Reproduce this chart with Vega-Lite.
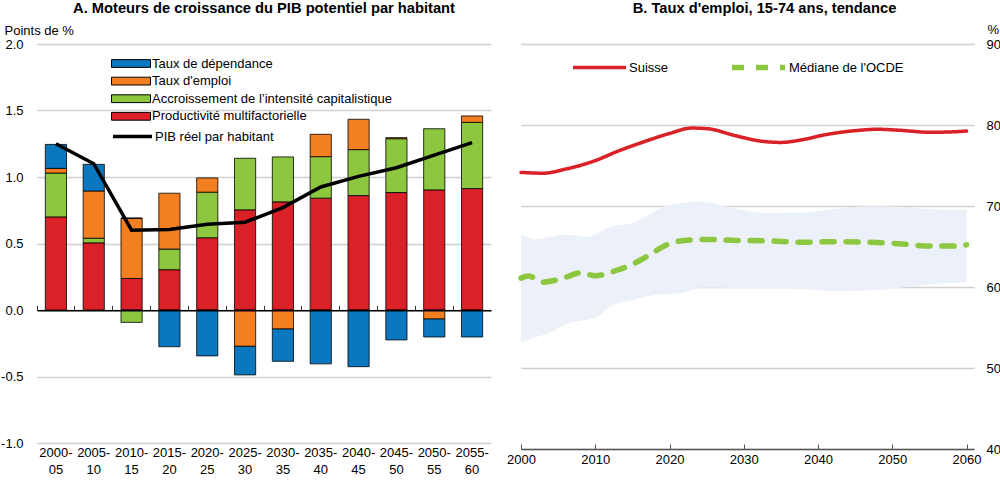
{
  "$schema": "https://vega.github.io/schema/vega-lite/v6.json",
  "padding": {"left": 0, "top": 1, "right": 0, "bottom": 0},
  "background": "white",
  "spacing": 15,
  "config": {
    "font": "Liberation Sans",
    "view": {"stroke": null},
    "axis": {"labelFont": "Liberation Sans", "labelFontSize": 13, "labelColor": "#000", "titleFont": "Liberation Sans", "titleFontSize": 13, "titleFontWeight": "normal", "titleColor": "#000"},
    "legend": {"labelFont": "Liberation Sans", "labelFontSize": 13, "labelColor": "#000", "padding": 0, "labelLimit": 400},
    "title": {"font": "Liberation Sans", "fontSize": 14.7, "fontWeight": "bold", "color": "#000"}
  },
  "hconcat": [
    {
      "title": {"text": "A. Moteurs de croissance du PIB potentiel par habitant", "anchor": "middle", "frame": "group", "baseline": "alphabetic", "offset": -4},
      "width": 454,
      "height": 399,
      "layer": [
        {
          "data": {"values": [
            {"periode": "2000-05", "composante": "Productivité multifactorielle", "valeur": 0.70},
            {"periode": "2000-05", "composante": "Accroissement de l’intensité capitalistique", "valeur": 0.33},
            {"periode": "2000-05", "composante": "Taux d'emploi", "valeur": 0.035},
            {"periode": "2000-05", "composante": "Taux de dépendance", "valeur": 0.18},
            {"periode": "2005-10", "composante": "Productivité multifactorielle", "valeur": 0.505},
            {"periode": "2005-10", "composante": "Accroissement de l’intensité capitalistique", "valeur": 0.035},
            {"periode": "2005-10", "composante": "Taux d'emploi", "valeur": 0.355},
            {"periode": "2005-10", "composante": "Taux de dépendance", "valeur": 0.20},
            {"periode": "2010-15", "composante": "Productivité multifactorielle", "valeur": 0.237},
            {"periode": "2010-15", "composante": "Accroissement de l’intensité capitalistique", "valeur": -0.093},
            {"periode": "2010-15", "composante": "Taux d'emploi", "valeur": 0.453},
            {"periode": "2010-15", "composante": "Taux de dépendance", "valeur": 0},
            {"periode": "2015-20", "composante": "Productivité multifactorielle", "valeur": 0.303},
            {"periode": "2015-20", "composante": "Accroissement de l’intensité capitalistique", "valeur": 0.155},
            {"periode": "2015-20", "composante": "Taux d'emploi", "valeur": 0.42},
            {"periode": "2015-20", "composante": "Taux de dépendance", "valeur": -0.276},
            {"periode": "2020-25", "composante": "Productivité multifactorielle", "valeur": 0.543},
            {"periode": "2020-25", "composante": "Accroissement de l’intensité capitalistique", "valeur": 0.343},
            {"periode": "2020-25", "composante": "Taux d'emploi", "valeur": 0.107},
            {"periode": "2020-25", "composante": "Taux de dépendance", "valeur": -0.345},
            {"periode": "2025-30", "composante": "Productivité multifactorielle", "valeur": 0.753},
            {"periode": "2025-30", "composante": "Accroissement de l’intensité capitalistique", "valeur": 0.388},
            {"periode": "2025-30", "composante": "Taux d'emploi", "valeur": -0.273},
            {"periode": "2025-30", "composante": "Taux de dépendance", "valeur": -0.215},
            {"periode": "2030-35", "composante": "Productivité multifactorielle", "valeur": 0.813},
            {"periode": "2030-35", "composante": "Accroissement de l’intensité capitalistique", "valeur": 0.338},
            {"periode": "2030-35", "composante": "Taux d'emploi", "valeur": -0.143},
            {"periode": "2030-35", "composante": "Taux de dépendance", "valeur": -0.243},
            {"periode": "2035-40", "composante": "Productivité multifactorielle", "valeur": 0.841},
            {"periode": "2035-40", "composante": "Accroissement de l’intensité capitalistique", "valeur": 0.312},
            {"periode": "2035-40", "composante": "Taux d'emploi", "valeur": 0.168},
            {"periode": "2035-40", "composante": "Taux de dépendance", "valeur": -0.405},
            {"periode": "2040-45", "composante": "Productivité multifactorielle", "valeur": 0.86},
            {"periode": "2040-45", "composante": "Accroissement de l’intensité capitalistique", "valeur": 0.346},
            {"periode": "2040-45", "composante": "Taux d'emploi", "valeur": 0.228},
            {"periode": "2040-45", "composante": "Taux de dépendance", "valeur": -0.426},
            {"periode": "2045-50", "composante": "Productivité multifactorielle", "valeur": 0.883},
            {"periode": "2045-50", "composante": "Accroissement de l’intensité capitalistique", "valeur": 0.405},
            {"periode": "2045-50", "composante": "Taux d'emploi", "valeur": 0.008},
            {"periode": "2045-50", "composante": "Taux de dépendance", "valeur": -0.225},
            {"periode": "2050-55", "composante": "Productivité multifactorielle", "valeur": 0.903},
            {"periode": "2050-55", "composante": "Accroissement de l’intensité capitalistique", "valeur": 0.46},
            {"periode": "2050-55", "composante": "Taux d'emploi", "valeur": -0.068},
            {"periode": "2050-55", "composante": "Taux de dépendance", "valeur": -0.135},
            {"periode": "2055-60", "composante": "Productivité multifactorielle", "valeur": 0.913},
            {"periode": "2055-60", "composante": "Accroissement de l’intensité capitalistique", "valeur": 0.498},
            {"periode": "2055-60", "composante": "Taux d'emploi", "valeur": 0.048},
            {"periode": "2055-60", "composante": "Taux de dépendance", "valeur": -0.203}
          ]},
          "transform": [
            {"calculate": "indexof(['Productivité multifactorielle', 'Accroissement de l’intensité capitalistique', \"Taux d'emploi\", 'Taux de dépendance'], datum.composante)", "as": "ordre"}
          ],
          "mark": {"type": "bar", "width": {"band": 0.56}, "stroke": "#000", "strokeWidth": 0.8},
          "encoding": {
            "x": {"field": "periode", "type": "nominal", "sort": null, "scale": {"paddingInner": 0, "paddingOuter": 0},
              "axis": {"orient": "bottom", "title": null, "domain": false, "ticks": false, "tickSize": 0, "labelAngle": 0, "labelPadding": 3, "labelBaseline": "top", "labelLineHeight": 17, "labelExpr": "[slice(datum.label, 0, 5), slice(datum.label, 5)]"}},
            "y": {"field": "valeur", "type": "quantitative", "scale": {"domain": [-1, 2], "nice": false},
              "axis": {"values": [-1, -0.5, 0, 0.5, 1, 1.5, 2], "labelExpr": "replace(format(datum.value, '.1f'), '−', '-')", "title": "Points de %", "titleAngle": 0, "titleAlign": "left", "titleBaseline": "middle", "titleX": -33, "titleY": -14, "domain": false, "ticks": false, "tickSize": 0, "labelPadding": 14, "gridColor": "#d0d0d0", "gridWidth": 1.5}},
            "fill": {"field": "composante", "type": "nominal",
              "scale": {"domain": ["Taux de dépendance", "Taux d'emploi", "Accroissement de l’intensité capitalistique", "Productivité multifactorielle"], "range": ["#0B77BF", "#F47F20", "#8DC63F", "#DA2128"]},
              "legend": {"orient": "none", "legendX": 74, "legendY": 12, "title": null, "direction": "vertical", "symbolType": "M-1,-0.2H1V0.2H-1Z", "symbolSize": 1521, "symbolStrokeColor": "#000", "symbolStrokeWidth": 1, "clipHeight": 15, "rowPadding": 2.6, "labelOffset": 1}},
            "order": {"field": "ordre", "type": "quantitative"}
          }
        },
        {
          "data": {"values": [
            {"periode": "2000-05", "valeur": 1.25},
            {"periode": "2005-10", "valeur": 1.10},
            {"periode": "2010-15", "valeur": 0.60},
            {"periode": "2015-20", "valeur": 0.605},
            {"periode": "2020-25", "valeur": 0.645},
            {"periode": "2025-30", "valeur": 0.66},
            {"periode": "2030-35", "valeur": 0.77},
            {"periode": "2035-40", "valeur": 0.925},
            {"periode": "2040-45", "valeur": 1.005},
            {"periode": "2045-50", "valeur": 1.07},
            {"periode": "2050-55", "valeur": 1.165},
            {"periode": "2055-60", "valeur": 1.258}
          ]},
          "mark": {"type": "line", "strokeWidth": 3.5},
          "encoding": {
            "x": {"field": "periode", "type": "nominal", "sort": null,
              "axis": {"orient": "top", "offset": -266.3, "title": null, "labels": false, "grid": false, "domainColor": "#000", "domainWidth": 1.5, "tickColor": "#333", "tickSize": 5, "tickWidth": 1, "bandPosition": 0, "zindex": 1}},
            "y": {"field": "valeur", "type": "quantitative"},
            "stroke": {"datum": "PIB réel par habitant", "scale": {"range": ["#000"]},
              "legend": {"orient": "none", "legendX": 74, "legendY": 85, "title": null, "symbolType": "stroke", "symbolSize": 1521, "symbolStrokeWidth": 3.5, "clipHeight": 15, "labelOffset": 1}}
          }
        }
      ]
    },
    {
      "title": {"text": "B. Taux d'emploi, 15-74 ans, tendance", "anchor": "middle", "frame": "group", "baseline": "alphabetic", "offset": -5, "dx": 17},
      "width": 453,
      "height": 405,
      "layer": [
        {
          "data": {"values": [
            {"annee": 2000, "bas": 53.2, "haut": 66.45},
            {"annee": 2002, "bas": 53.8, "haut": 65.9},
            {"annee": 2004, "bas": 54.4, "haut": 66.2},
            {"annee": 2006, "bas": 55.4, "haut": 66.48},
            {"annee": 2009, "bas": 56.0, "haut": 66.15},
            {"annee": 2010, "bas": 56.2, "haut": 66.5},
            {"annee": 2012, "bas": 57.6, "haut": 67.4},
            {"annee": 2015, "bas": 58.4, "haut": 67.9},
            {"annee": 2017, "bas": 58.85, "haut": 68.8},
            {"annee": 2019, "bas": 59.1, "haut": 69.85},
            {"annee": 2022, "bas": 59.3, "haut": 70.4},
            {"annee": 2024, "bas": 59.9, "haut": 70.55},
            {"annee": 2029, "bas": 59.87, "haut": 69.65},
            {"annee": 2033, "bas": 59.85, "haut": 69.1},
            {"annee": 2038, "bas": 59.74, "haut": 69.2},
            {"annee": 2042, "bas": 59.5, "haut": 69.6},
            {"annee": 2047, "bas": 59.56, "haut": 69.97},
            {"annee": 2051, "bas": 59.9, "haut": 69.9},
            {"annee": 2056, "bas": 60.4, "haut": 69.56},
            {"annee": 2060, "bas": 60.6, "haut": 69.52}
          ]},
          "mark": {"type": "area", "color": "#ECF0F8", "interpolate": "monotone"},
          "encoding": {
            "x": {"field": "annee", "type": "quantitative", "scale": {"domain": [2000, 2061], "nice": false, "zero": false},
              "axis": {"values": [2000, 2010, 2020, 2030, 2040, 2050, 2060], "format": "d", "title": null, "grid": false, "domainColor": "#555", "domainWidth": 1.5, "tickColor": "#555", "tickWidth": 1, "tickSize": -5, "labelPadding": 9, "labelFlush": false}},
            "y": {"field": "bas", "type": "quantitative", "scale": {"domain": [40, 90], "nice": false, "zero": false},
              "axis": {"orient": "right", "values": [40, 50, 60, 70, 80, 90], "title": "%", "titleAngle": 0, "titleAlign": "left", "titleBaseline": "middle", "titleX": 13, "titleY": -15, "domain": false, "ticks": false, "tickSize": 0, "labelPadding": 12, "gridColor": "#d0d0d0", "gridWidth": 1.5}},
            "y2": {"field": "haut"}
          }
        },
        {
          "data": {"values": [
            {"annee": 2000, "serie": "Suisse", "valeur": 74.15},
            {"annee": 2003, "serie": "Suisse", "valeur": 74.05},
            {"annee": 2006, "serie": "Suisse", "valeur": 74.55},
            {"annee": 2010, "serie": "Suisse", "valeur": 75.6},
            {"annee": 2013, "serie": "Suisse", "valeur": 76.75},
            {"annee": 2016, "serie": "Suisse", "valeur": 77.75},
            {"annee": 2020, "serie": "Suisse", "valeur": 78.95},
            {"annee": 2023, "serie": "Suisse", "valeur": 79.62},
            {"annee": 2025, "serie": "Suisse", "valeur": 79.55},
            {"annee": 2029, "serie": "Suisse", "valeur": 78.65},
            {"annee": 2032, "serie": "Suisse", "valeur": 78.05},
            {"annee": 2035, "serie": "Suisse", "valeur": 77.85},
            {"annee": 2038, "serie": "Suisse", "valeur": 78.2},
            {"annee": 2041, "serie": "Suisse", "valeur": 78.8},
            {"annee": 2045, "serie": "Suisse", "valeur": 79.3},
            {"annee": 2048, "serie": "Suisse", "valeur": 79.47},
            {"annee": 2051, "serie": "Suisse", "valeur": 79.35},
            {"annee": 2055, "serie": "Suisse", "valeur": 79.1},
            {"annee": 2058, "serie": "Suisse", "valeur": 79.15},
            {"annee": 2060, "serie": "Suisse", "valeur": 79.25},
            {"annee": 2000, "serie": "Médiane de l'OCDE", "valeur": 61.1},
            {"annee": 2001, "serie": "Médiane de l'OCDE", "valeur": 61.35},
            {"annee": 2003, "serie": "Médiane de l'OCDE", "valeur": 60.6},
            {"annee": 2006, "serie": "Médiane de l'OCDE", "valeur": 61.2},
            {"annee": 2008, "serie": "Médiane de l'OCDE", "valeur": 61.75},
            {"annee": 2010, "serie": "Médiane de l'OCDE", "valeur": 61.4},
            {"annee": 2013, "serie": "Médiane de l'OCDE", "valeur": 62.1},
            {"annee": 2015, "serie": "Médiane de l'OCDE", "valeur": 62.8},
            {"annee": 2017, "serie": "Médiane de l'OCDE", "valeur": 63.8},
            {"annee": 2020, "serie": "Médiane de l'OCDE", "valeur": 65.35},
            {"annee": 2022, "serie": "Médiane de l'OCDE", "valeur": 65.75},
            {"annee": 2025, "serie": "Médiane de l'OCDE", "valeur": 65.87},
            {"annee": 2029, "serie": "Médiane de l'OCDE", "valeur": 65.75},
            {"annee": 2033, "serie": "Médiane de l'OCDE", "valeur": 65.7},
            {"annee": 2038, "serie": "Médiane de l'OCDE", "valeur": 65.53},
            {"annee": 2042, "serie": "Médiane de l'OCDE", "valeur": 65.6},
            {"annee": 2047, "serie": "Médiane de l'OCDE", "valeur": 65.53},
            {"annee": 2051, "serie": "Médiane de l'OCDE", "valeur": 65.33},
            {"annee": 2055, "serie": "Médiane de l'OCDE", "valeur": 65.05},
            {"annee": 2058, "serie": "Médiane de l'OCDE", "valeur": 65.05},
            {"annee": 2060, "serie": "Médiane de l'OCDE", "valeur": 65.2}
          ]},
          "mark": {"type": "line", "interpolate": "monotone", "strokeCap": "round"},
          "encoding": {
            "x": {"field": "annee", "type": "quantitative"},
            "y": {"field": "valeur", "type": "quantitative"},
            "color": {"field": "serie", "type": "nominal",
              "scale": {"domain": ["Suisse", "Médiane de l'OCDE"], "range": ["#DA2128", "#8DC63F"]},
              "legend": {"orient": "none", "legendX": 534, "legendY": 16, "title": null, "direction": "horizontal", "symbolType": "stroke", "symbolSize": 2809, "clipHeight": 15, "labelOffset": 1, "columnPadding": 60}},
            "strokeDash": {"field": "serie", "type": "nominal",
              "scale": {"domain": ["Suisse", "Médiane de l'OCDE"], "range": [[1, 0], [12, 12]]}},
            "strokeWidth": {"field": "serie", "type": "ordinal",
              "scale": {"domain": ["Suisse", "Médiane de l'OCDE"], "range": [3.5, 5.5]}}
          }
        }
      ]
    }
  ]
}
